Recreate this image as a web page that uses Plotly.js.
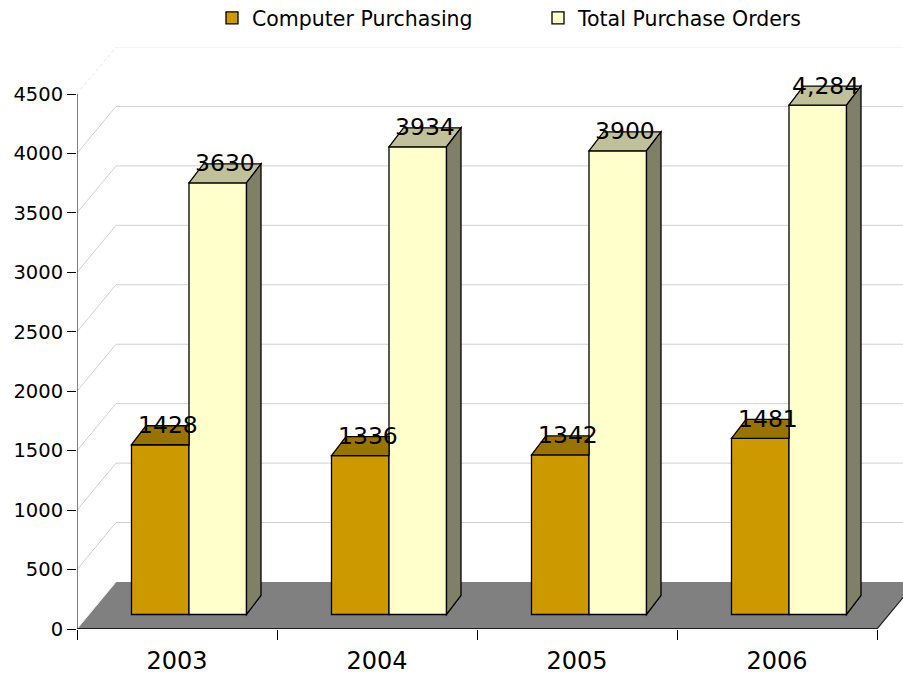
<!DOCTYPE html>
<html>
<head>
<meta charset="utf-8">
<script src="https://cdn.plot.ly/plotly-3.0.1.min.js"></script>
<style>html,body{margin:0;padding:0;background:#fff;}#chart{width:903px;height:677px;}</style>
</head>
<body>
<div id="chart"></div>
<script>
// ---- data ----
const years = ['2003', '2004', '2005', '2006'];
const computerPurchasing = [1428, 1336, 1342, 1481];
const totalPurchaseOrders = [3630, 3934, 3900, 4284];
const computerLabels = ['1428', '1336', '1342', '1481'];
const totalLabels = ['3630', '3934', '3900', '4,284'];
const seriesNames = ['Computer Purchasing', 'Total Purchase Orders'];
const yTicks = [0, 500, 1000, 1500, 2000, 2500, 3000, 3500, 4000, 4500];

// ---- geometry (pixels) ----
const W = 903, H = 677;
const L = 77, R = 903, T = 47, B = 629, FRONT_TOP = 94;
const ppuY = (B - FRONT_TOP) / yTicks[yTicks.length - 1];
const ppuX = 200;
const xRange = [-0.5, -0.5 + (R - L) / ppuX];
const yRange = [0, (B - T) / ppuY];
const wallDX = 39 / ppuX, wallDY = 47 / ppuY;      // back wall depth
const shiftX = 12 / ppuX, shiftY = 14.5 / ppuY;    // bar front offset
const depX = 14.5 / ppuX, depY = 19 / ppuY;        // bar depth
const bargap = 0.425;
const barW = (1 - bargap) / 2;

const FONT = 'DejaVu Sans, Verdana, sans-serif';
const cOrange = '#CC9900', cOrangeTop = '#997300';
const cYellow = '#FFFFCC', cYellowTop = '#C0C09A', cYellowSide = '#808066';

const traces = [
  {type: 'bar', name: seriesNames[0], x: years.map((_, i) => i), y: computerPurchasing,
   xaxis: 'x2', yaxis: 'y2', marker: {color: cOrange, line: {color: '#000', width: 1.3}}, hoverinfo: 'x+y'},
  {type: 'bar', name: seriesNames[1], x: years.map((_, i) => i), y: totalPurchaseOrders,
   xaxis: 'x2', yaxis: 'y2', marker: {color: cYellow, line: {color: '#000', width: 1.3}}, hoverinfo: 'x+y'}
];

const shapes = [];
const poly = pts => 'M' + pts.map(p => p[0] + ',' + p[1]).join('L') + 'Z';
// back wall gridlines
yTicks.forEach(v => {
  if (v === 0) return;
  const last = v === yTicks[yTicks.length - 1];
  shapes.push({type: 'line', layer: 'below', xref: 'x', yref: 'y',
    x0: -0.5 + wallDX, x1: xRange[1], y0: v + wallDY, y1: v + wallDY,
    line: {color: last ? '#eeeeee' : '#d0d0d0', width: 1}});
});
// floor
shapes.push({type: 'path', layer: 'below', xref: 'x', yref: 'y',
  path: poly([[-0.5, 0], [-0.5 + wallDX, wallDY], [years.length - 0.5 + wallDX, wallDY], [years.length - 0.5, 0]]),
  fillcolor: '#808080', line: {width: 0}});
// left wall diagonals
yTicks.forEach(v => {
  const last = v === yTicks[yTicks.length - 1];
  shapes.push({type: 'line', layer: 'below', xref: 'x', yref: 'y',
    x0: -0.5, x1: -0.5 + wallDX, y0: v, y1: v + wallDY,
    line: {color: last ? '#e6e6e6' : (v === 0 ? '#e8e8e8' : '#d0d0d0'), width: 1, dash: last ? 'dot' : 'solid'}});
});
// floor front & right edges
shapes.push({type: 'line', layer: 'below', xref: 'x', yref: 'y', x0: -0.5, x1: years.length - 0.5, y0: 0, y1: 0,
  line: {color: '#000', width: 1.5}});
shapes.push({type: 'line', layer: 'below', xref: 'x', yref: 'y', x0: years.length - 0.5, x1: years.length - 0.5 + wallDX, y0: 0, y1: wallDY,
  line: {color: '#222', width: 1.2}});
// y axis line
shapes.push({type: 'line', layer: 'above', xref: 'x', yref: 'y', x0: -0.5, x1: -0.5, y0: 0, y1: yTicks[yTicks.length - 1],
  line: {color: '#000', width: 1}});

// 3D faces of bars
const annotations = [];
years.forEach((yr, i) => {
  const ol = i - barW, om = i, yr_ = i + barW;
  const a = computerPurchasing[i], b = totalPurchaseOrders[i];
  shapes.push({type: 'path', layer: 'above', xref: 'x2', yref: 'y2',
    path: poly([[ol, a], [ol + depX, a + depY], [om, a + depY], [om, a]]),
    fillcolor: cOrangeTop, line: {color: '#000', width: 1.3}});
  shapes.push({type: 'path', layer: 'above', xref: 'x2', yref: 'y2',
    path: poly([[om, b], [om + depX, b + depY], [yr_ + depX, b + depY], [yr_, b]]),
    fillcolor: cYellowTop, line: {color: '#000', width: 1.3}});
  shapes.push({type: 'path', layer: 'above', xref: 'x2', yref: 'y2',
    path: poly([[yr_, 0], [yr_ + depX, depY], [yr_ + depX, b + depY], [yr_, b]]),
    fillcolor: cYellowSide, line: {color: '#000', width: 1.3}});
  annotations.push({xref: 'x2', yref: 'y2', x: i - barW / 2 + depX / 2, y: a + depY / 2, yshift: 10,
    text: computerLabels[i], showarrow: false, xanchor: 'center', yanchor: 'middle',
    font: {family: FONT, size: 23.5, color: '#000'}});
  annotations.push({xref: 'x2', yref: 'y2', x: i + barW / 2 + depX / 2, y: b + depY / 2, yshift: 10,
    text: totalLabels[i], showarrow: false, xanchor: 'center', yanchor: 'middle',
    font: {family: FONT, size: 23.5, color: '#000'}});
});

const layout = {
  width: W, height: H,
  margin: {l: L, r: W - R, t: T, b: H - B, pad: 0},
  paper_bgcolor: '#fff', plot_bgcolor: 'rgba(0,0,0,0)',
  font: {family: FONT, color: '#000'},
  barmode: 'group', bargap: bargap, bargroupgap: 0,
  showlegend: true,
  legend: {orientation: 'h', xref: 'container', yref: 'container', x: 212 / W, y: 1 - 18 / H,
    xanchor: 'left', yanchor: 'middle', entrywidth: 281, entrywidthmode: 'pixels',
    font: {family: FONT, size: 20.5, color: '#000'}, bgcolor: 'rgba(0,0,0,0)', traceorder: 'normal'},
  xaxis: {type: 'linear', range: xRange, domain: [0, 1], fixedrange: true,
    tickmode: 'array', tickvals: years.map((_, i) => i), ticktext: years, ticks: '', ticklabelstandoff: 15,
    tickfont: {family: FONT, size: 24, color: '#000'}, showgrid: false, zeroline: false, showline: false,
    minor: {ticks: 'outside', ticklen: 10, tickwidth: 1, tickcolor: '#000', tick0: -0.5, dtick: 1, showgrid: false}},
  yaxis: {type: 'linear', range: yRange, domain: [0, 1], fixedrange: true,
    tickmode: 'array', tickvals: yTicks, ticks: 'outside', ticklen: 9, tickwidth: 1, tickcolor: '#000',
    tickfont: {family: FONT, size: 19.5, color: '#000'}, showgrid: false, zeroline: false, showline: false},
  xaxis2: {type: 'linear', overlaying: 'x', anchor: 'y2', range: [xRange[0] - shiftX, xRange[1] - shiftX],
    visible: false, fixedrange: true},
  yaxis2: {type: 'linear', overlaying: 'y', anchor: 'x2', range: [yRange[0] - shiftY, yRange[1] - shiftY],
    visible: false, fixedrange: true},
  shapes: shapes,
  annotations: annotations
};

Plotly.newPlot('chart', traces, layout, {displayModeBar: false, staticPlot: true});
</script>
</body>
</html>
